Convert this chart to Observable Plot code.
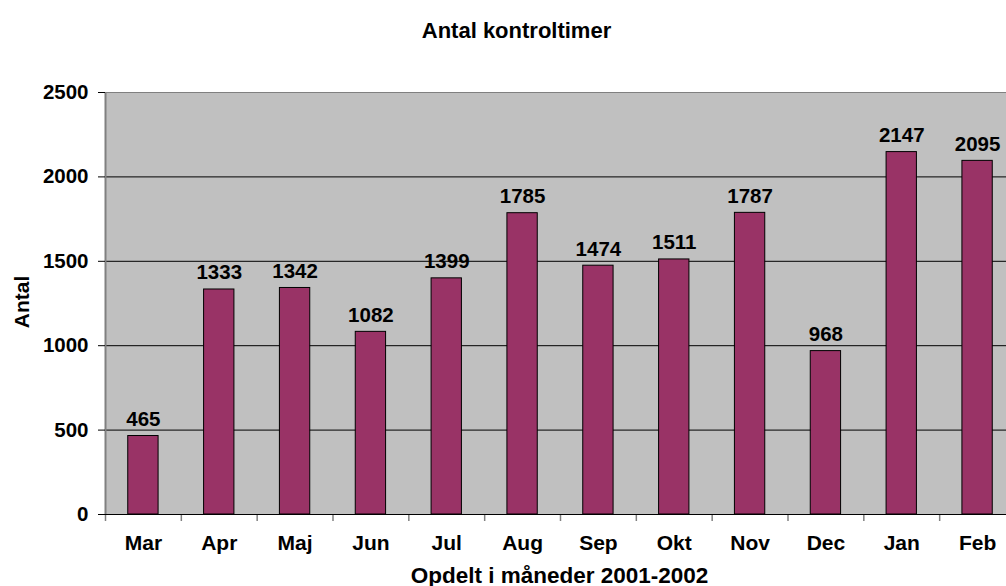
<!DOCTYPE html>
<html><head><meta charset="utf-8">
<script src="https://cdn.jsdelivr.net/npm/d3@7"></script>
<script src="https://cdn.jsdelivr.net/npm/@observablehq/plot@0.6"></script>
<style>
body{margin:0;overflow:hidden;background:#fff}
#chart svg{font-family:"Liberation Sans",Arial,sans-serif;font-weight:bold;max-width:none !important}
</style>
</head><body><div id="chart"></div>
<script>
const months = ["Mar","Apr","Maj","Jun","Jul","Aug","Sep","Okt","Nov","Dec","Jan","Feb"];
const hours = [465,1333,1342,1082,1399,1785,1474,1511,1787,968,2147,2095];
const yTicks = [0,500,1000,1500,2000,2500];
const title = "Antal kontroltimer";
const xLabel = "Opdelt i måneder 2001-2002";
const yLabel = "Antal";

const data = months.map((m, i) => ({month: m, value: hours[i]}));

const W = 1030, H = 586, mL = 105, mR = 15, mT = 92, mB = 72;
const step = (W - mL - mR) / months.length;
const fs = 20.5;

const chart = Plot.plot({
  width: W, height: H,
  marginLeft: mL, marginRight: mR, marginTop: mT, marginBottom: mB,
  style: {fontSize: fs + "px", fontFamily: '"Liberation Sans", Arial, sans-serif', fontWeight: "bold", color: "#000", background: "#fff", overflow: "visible", maxWidth: "none"},
  x: {domain: months, paddingInner: 0.6, paddingOuter: 0.3, round: false},
  y: {domain: [0, 2500], ticks: yTicks},
  marks: [
    Plot.frame({fill: "#C0C0C0", stroke: null}),
    Plot.ruleY(yTicks.filter(t => t > 0 && t < 2500), {stroke: "#000"}),
    Plot.ruleY([2500], {stroke: "#808080"}),
    Plot.ruleX(months, {x: d => d, dx: -step / 2, y1: 0, y2: 0, insetBottom: -7, stroke: "#808080", strokeWidth: 1.5}),
    Plot.ruleX([months[0]], {x: d => d, dx: -step / 2, stroke: "#808080", strokeWidth: 2}),
    Plot.barY(data, {x: "month", y: "value", fill: "#993366", stroke: "#000", strokeWidth: 1}),
    Plot.ruleY([0], {stroke: "#000", strokeWidth: 1.2}),
    Plot.axisY({ticks: yTicks, tickSize: 7, tickPadding: 10, label: null, tickFormat: d => String(d), stroke: "#000"}),
    Plot.axisX({tickSize: 0, tickPadding: 21, label: null, fontSize: 21}),
    Plot.text(data, {x: "month", y: "value", text: d => String(d.value), dy: -10, lineAnchor: "bottom", fontSize: 20.5}),
    Plot.text([title], {frameAnchor: "top", dx: -44, dy: -55, lineAnchor: "bottom", text: d => d, fontSize: 22}),
    Plot.text([xLabel], {frameAnchor: "bottom", dx: -1, dy: 68, lineAnchor: "bottom", text: d => d, fontSize: 22.5}),
    Plot.text([yLabel], {frameAnchor: "left", dx: -77, dy: -1.5, rotate: -90, textAnchor: "middle", lineAnchor: "bottom", text: d => d, fontSize: 21})
  ]
});
document.getElementById("chart").appendChild(chart);
</script>
</body></html>
